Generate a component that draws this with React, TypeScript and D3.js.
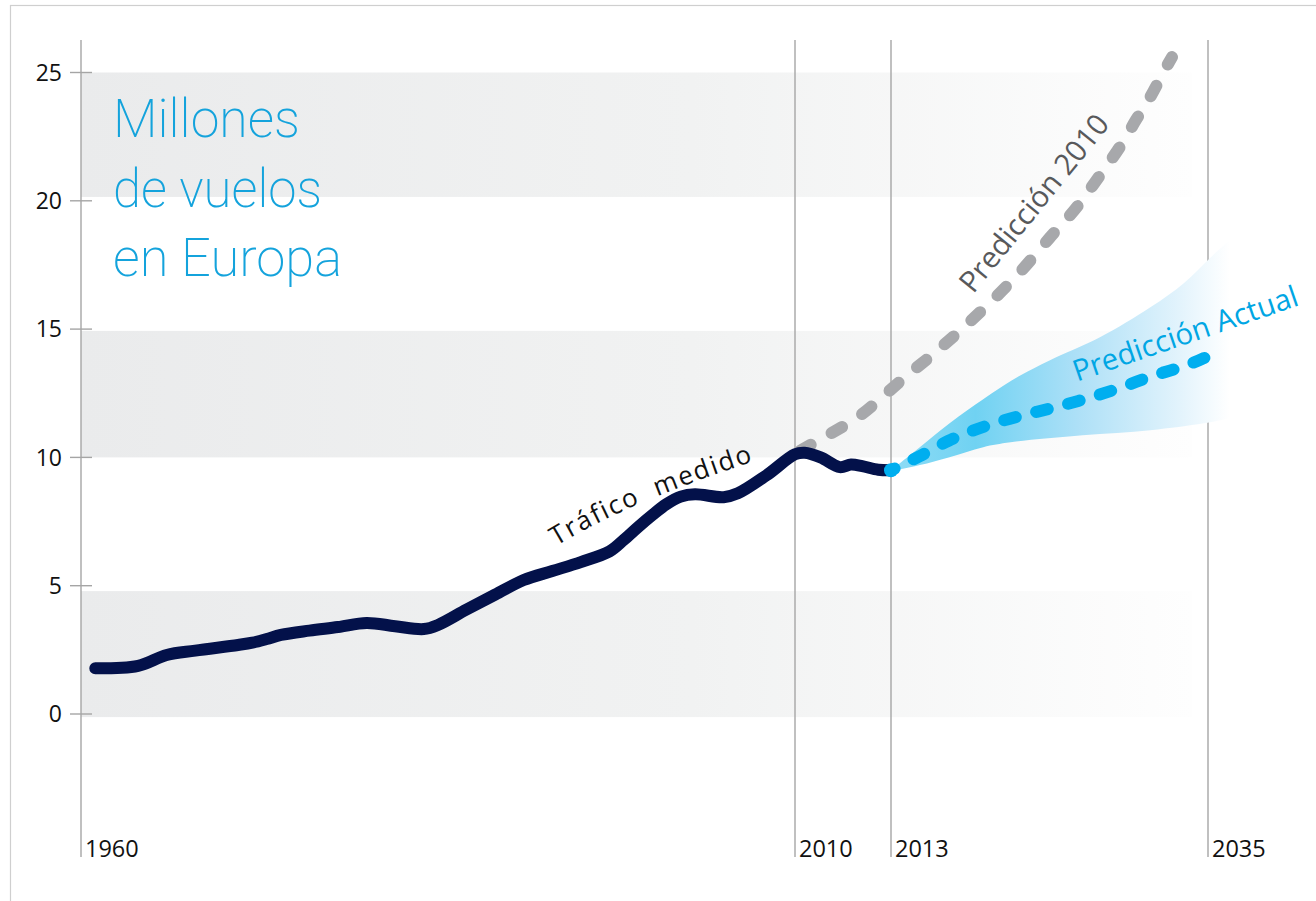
import React from "react";
import * as d3 from "d3";

// ---------- data ----------
const yTicks = [0, 5, 10, 15, 20, 25];
const yearTicks = [1960, 2010, 2013, 2035];
const bandRanges: [number, number][] = [
  [20.15, 25],
  [10, 14.93],
  [-0.12, 4.79],
];

const traficoYears = [1961, 1964, 1966, 1968, 1971, 1972, 1973, 1974, 1976, 1978, 1980, 1982, 1984, 1985, 1987, 1989, 1991, 1993, 1995, 1997, 1998, 1999, 2000, 2001, 2002, 2003, 2005, 2006, 2008, 2010, 2010.3, 2010.8, 2011.4, 2011.75, 2012.1, 2012.6, 2013];
const traficoValues = [1.78, 1.88, 2.3, 2.47, 2.69, 2.78, 2.92, 3.08, 3.25, 3.39, 3.55, 3.42, 3.31, 3.47, 4.07, 4.65, 5.22, 5.57, 5.92, 6.33, 6.78, 7.28, 7.75, 8.18, 8.47, 8.56, 8.45, 8.6, 9.3, 10.12, 10.18, 10.0, 9.62, 9.72, 9.66, 9.52, 9.5];

const pred2010Years = [2010, 2011, 2012, 2013, 2014, 2016, 2018, 2020, 2022, 2024, 2026, 2027, 2028, 2029, 2030, 2031, 2032, 2032.5];
const pred2010Values = [10.15, 10.85, 11.6, 12.65, 13.14, 14.06, 15.05, 16.1, 17.25, 18.55, 19.83, 20.6, 21.38, 22.2, 23.15, 24.05, 25.1, 25.6];

const predActualYears = [2013, 2015, 2017, 2020, 2022, 2024, 2026, 2029, 2031, 2033, 2035, 2035.4];
const predActualValues = [9.5, 10.05, 10.65, 11.3, 11.62, 11.9, 12.2, 12.73, 13.15, 13.5, 13.95, 14.08];

const rangeUpperYears = [2013, 2015, 2017, 2020, 2022, 2024, 2027.5, 2031, 2033.3, 2035.2, 2036.5];
const rangeUpperValues = [9.5, 10.4, 11.3, 12.5, 13.2, 13.78, 14.68, 15.85, 16.78, 17.8, 18.46];
const rangeLowerYears = [2013, 2015, 2017, 2019.4, 2021.3, 2026.3, 2031, 2034.7, 2036.5];
const rangeLowerValues = [9.45, 9.7, 10.0, 10.4, 10.59, 10.86, 11.06, 11.33, 11.53];

const titleLines = ["Millones", "de vuelos", "en Europa"];

// ---------- layout ----------
const W = 1316;
const H = 901;

const x = d3.scaleLinear().domain([1960, 2010, 2013, 2035]).range([81, 795, 891, 1208]);
const y = d3.scaleLinear().domain([0, 25]).range([714, 72.5]);

const lineTop = 40;
const lineBottom = 857;
const bandEndYear = 2033.9;

type P = [number, number];
const zip = (a: number[], b: number[]): P[] => a.map((v, i) => [v, b[i]]);

const lineGen = d3
  .line<P>()
  .x((d) => x(d[0]))
  .y((d) => y(d[1]))
  .curve(d3.curveMonotoneX);

const lineCR = d3
  .line<P>()
  .x((d) => x(d[0]))
  .y((d) => y(d[1]))
  .curve(d3.curveCatmullRom.alpha(0.5));

const trafico = zip(traficoYears, traficoValues);
const pred2010 = zip(pred2010Years, pred2010Values);
const predActual = zip(predActualYears, predActualValues);
const upper = zip(rangeUpperYears, rangeUpperValues);
const lower = zip(rangeLowerYears, rangeLowerValues).reverse();

const upperPath = lineCR(upper) || "";
const lowerPath = (lineCR(lower) || "").replace(/^M/, "L");
const rangePath = upperPath + lowerPath + "Z";

const FONT = "'Open Sans', 'Noto Sans', sans-serif";

export default function App() {
  const tx0 = x(1993.3);
  const ty0 = y(6.55);
  const trafPath = `M${tx0},${ty0} Q${x(1999.2)},${y(8.55)} ${x(2009.5)},${y(10.25)}`;

  return (
    <svg
      width={W}
      height={H}
      style={{ position: "absolute", left: 0, top: 0, background: "#fff" }}
      fontFamily={FONT}
    >
      <defs>
        <linearGradient id="bandGrad" gradientUnits="userSpaceOnUse" x1={x(1960)} x2={x(bandEndYear)} y1={0} y2={0}>
          <stop offset="0" stopColor="#eaebec" />
          <stop offset="0.55" stopColor="#f1f2f2" />
          <stop offset="1" stopColor="#fefefe" />
        </linearGradient>
        <linearGradient id="rangeGrad" gradientUnits="userSpaceOnUse" x1={x(2013)} x2={x(2036.5)} y1={0} y2={0}>
          <stop offset="0" stopColor="#8fdcf5" />
          <stop offset="0.25" stopColor="#70d2f2" />
          <stop offset="0.55" stopColor="#ade0f7" />
          <stop offset="0.85" stopColor="#e2f3fc" />
          <stop offset="1" stopColor="#ffffff" />
        </linearGradient>
        <path id="trafPath" d={trafPath} />
      </defs>

      {/* frame */}
      <rect x={10.5} y={5.5} width={W + 20} height={H + 20} fill="#fff" stroke="#cfcfcf" strokeWidth={1.2} />

      {/* bands */}
      {bandRanges.map(([lo, hi], i) => (
        <rect
          key={i}
          x={x(1960)}
          y={y(hi)}
          width={x(bandEndYear) - x(1960)}
          height={y(lo) - y(hi)}
          fill="url(#bandGrad)"
        />
      ))}

      {/* title */}
      {titleLines.map((t, i) => (
        <text
          key={t}
          x={113}
          y={137 + i * 69.5}
          fontFamily="Roboto, 'Open Sans', sans-serif"
          fontWeight={200}
          fontSize={54}
          fill="#14a3dc"
          textLength={[187, 209, 229][i]}
          lengthAdjust="spacingAndGlyphs"
        >
          {t}
        </text>
      ))}

      {/* year vertical lines */}
      {yearTicks.map((yr) => (
        <g key={yr}>
          <line x1={x(yr)} x2={x(yr)} y1={lineTop} y2={lineBottom} stroke="#a5a5a5" strokeWidth={1.4} />
          <text x={x(yr) + 4} y={lineBottom} fontSize={23.5} fill="#111">
            {yr}
          </text>
        </g>
      ))}

      {/* y ticks */}
      {yTicks.map((v) => (
        <g key={v}>
          <line x1={70} x2={92} y1={y(v)} y2={y(v)} stroke="#a5a5a5" strokeWidth={1.4} />
          <text x={62} y={y(v)} dy="0.36em" textAnchor="end" fontSize={23} fill="#111">
            {v}
          </text>
        </g>
      ))}

      {/* uncertainty range */}
      <path d={rangePath} fill="url(#rangeGrad)" />

      {/* prediccion 2010 */}
      <path
        d={lineGen(pred2010) || ""}
        fill="none"
        stroke="#a7a8ab"
        strokeWidth={12}
        strokeLinecap="round"
        strokeDasharray="12 24"
        strokeDashoffset={-6}
      />

      {/* prediccion actual */}
      <path
        d={lineGen(predActual) || ""}
        fill="none"
        stroke="#00aeef"
        strokeWidth={12}
        strokeLinecap="round"
        strokeDasharray="12 21"
        strokeDashoffset={8}
      />

      {/* trafico medido */}
      <path
        d={lineCR(trafico) || ""}
        fill="none"
        stroke="#03114a"
        strokeWidth={12}
        strokeLinecap="round"
        strokeLinejoin="round"
      />
      {/* blue dot at 2013 */}
      <circle cx={x(2013)} cy={y(9.5)} r={7} fill="#00aeef" />

      {/* labels */}
      <text fontSize={26} fill="#111" letterSpacing={1.8} style={{ whiteSpace: "pre" }}>
        <textPath href="#trafPath">{"Tráfico  medido"}</textPath>
      </text>

      <text
        transform={`translate(${x(2018.7)},${y(16.35)}) rotate(-51)`}
        fontSize={29.5}
        fill="#58595b"
      >
        Predicción 2010
      </text>

      <text
        transform={`translate(${x(2025.9)},${y(12.95)}) rotate(-19)`}
        fontSize={29.5}
        fill="#00a6e4"
      >
        Predicción Actual
      </text>
    </svg>
  );
}
